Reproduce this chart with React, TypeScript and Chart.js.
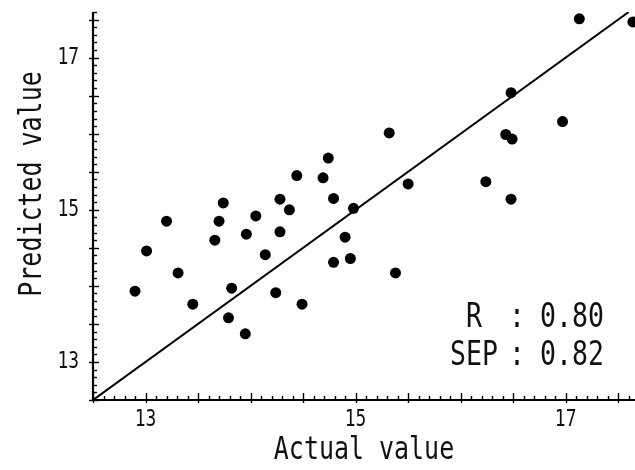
import React, { useEffect, useRef } from "react";
import { Chart, registerables } from "chart.js";

Chart.register(...registerables);

// Measured vs. predicted values for each sample
const actual = [
  12.9, 13.01, 13.2, 13.31, 13.45, 13.66, 13.7, 13.74, 13.79, 13.82, 13.95, 13.96,
  14.05, 14.14, 14.24, 14.28, 14.28, 14.37, 14.44, 14.49, 14.69, 14.74, 14.79, 14.79,
  14.9, 14.95, 14.98, 15.32, 15.38, 15.5, 16.24, 16.43, 16.49, 16.48, 16.48, 16.97,
  17.13, 17.64,
];
const predicted = [
  13.93, 14.46, 14.85, 14.17, 13.76, 14.6, 14.85, 15.09, 13.58, 13.97, 13.37, 14.68,
  14.92, 14.41, 13.91, 15.14, 14.71, 15.0, 15.45, 13.76, 15.42, 15.68, 15.15, 14.31,
  14.64, 14.36, 15.02, 16.01, 14.17, 15.34, 15.37, 15.99, 15.93, 16.54, 15.14, 16.16,
  17.51, 17.47,
];

// 1:1 reference line
const fitX = [12.5, 17.6];
const fitY = [12.5, 17.6];

const xRange = [12.5, 17.66];
const yRange = [12.5, 17.6];
const xTickLabels = [13, 15, 17];
const yTickLabels = [13, 15, 17];
const statRows = [
  ["R", "0.80"],
  ["SEP", "0.82"],
];
const xTitle = "Actual value";
const yTitle = "Predicted value";

const FONT = '"DejaVu Sans Mono", "Liberation Mono", monospace';
const SQUEEZE = 0.78;

function drawText(
  ctx: CanvasRenderingContext2D,
  text: string,
  x: number,
  y: number,
  size: number,
  align: CanvasTextAlign,
  rotate = 0
) {
  ctx.save();
  ctx.translate(x, y);
  if (rotate) ctx.rotate(rotate);
  ctx.scale(SQUEEZE, 1);
  ctx.font = `${size}px ${FONT}`;
  ctx.textAlign = align;
  ctx.textBaseline = "middle";
  ctx.fillStyle = "#111";
  ctx.fillText(text, 0, 0);
  ctx.restore();
}

// Axis lines, inward tick marks, tick labels, titles and fit statistics
const axisDecor = {
  id: "axisDecor",
  afterDraw(chart: any) {
    const { ctx, chartArea: a, scales } = chart;
    const x = scales.x;
    const y = scales.y;
    ctx.save();
    ctx.strokeStyle = "#000";
    ctx.lineCap = "butt";

    // x ticks every 0.1, longer every 0.5
    ctx.lineWidth = 1.4;
    for (let i = Math.ceil(x.min * 10); i <= Math.floor(x.max * 10); i++) {
      const px = Math.round(x.getPixelForValue(i / 10)) + 0.5;
      const big = i % 5 === 0;
      ctx.beginPath();
      ctx.moveTo(px, a.bottom + (big ? 3 : 0));
      ctx.lineTo(px, a.bottom - (big ? 7 : 4));
      ctx.stroke();
    }
    // y ticks every 0.1, longer every 0.5
    for (let i = Math.ceil(y.min * 10); i <= Math.floor(y.max * 10); i++) {
      const py = Math.round(y.getPixelForValue(i / 10)) + 0.5;
      const big = i % 5 === 0;
      ctx.beginPath();
      ctx.moveTo(a.left - (big ? 4 : 0), py);
      ctx.lineTo(a.left + (big ? 6 : 4), py);
      ctx.stroke();
    }

    // axis lines
    ctx.lineWidth = 2.2;
    ctx.beginPath();
    ctx.moveTo(a.left, a.top);
    ctx.lineTo(a.left, a.bottom);
    ctx.lineTo(a.right, a.bottom);
    ctx.stroke();
    ctx.restore();

    // tick labels
    xTickLabels.forEach((v) => {
      drawText(ctx, String(v), x.getPixelForValue(v), a.bottom + 20, 23, "center");
    });
    yTickLabels.forEach((v) => {
      drawText(ctx, String(v), a.left - 14, y.getPixelForValue(v), 23, "right");
    });

    // axis titles
    drawText(ctx, xTitle, (a.left + a.right) / 2, a.bottom + 51, 32, "center");
    drawText(ctx, yTitle, 33, (a.top + a.bottom) / 2 - 22, 32, "center", -Math.PI / 2);

    // statistics box
    statRows.forEach(([label, value], i) => {
      const cy = a.bottom - 82 + i * 38;
      drawText(ctx, label, a.right - 161, cy, 34, "center");
      drawText(ctx, ":", a.right - 118, cy, 34, "center");
      drawText(ctx, value, a.right - 95, cy, 34, "left");
    });
  },
};

export default function App() {
  const canvasRef = useRef<HTMLCanvasElement | null>(null);

  useEffect(() => {
    const canvas = canvasRef.current;
    if (!canvas) return;
    const points = actual.map((v, i) => ({ x: v, y: predicted[i] }));
    const fitLine = fitX.map((v, i) => ({ x: v, y: fitY[i] }));

    const chart = new Chart(canvas, {
      type: "scatter",
      data: {
        datasets: [
          {
            type: "line",
            data: fitLine,
            borderColor: "#000",
            borderWidth: 2,
            pointRadius: 0,
            fill: false,
          },
          {
            data: points,
            backgroundColor: "#000",
            borderWidth: 0,
            pointRadius: 5.5,
            pointHoverRadius: 5.5,
          },
        ],
      },
      options: {
        animation: false,
        responsive: true,
        maintainAspectRatio: false,
        layout: {
          autoPadding: false,
          padding: { left: 93, top: 12, right: 0, bottom: 70 },
        },
        plugins: {
          legend: { display: false },
          tooltip: { enabled: false },
        },
        scales: {
          x: { type: "linear", display: false, min: xRange[0], max: xRange[1] },
          y: { type: "linear", display: false, min: yRange[0], max: yRange[1] },
        },
      },
      plugins: [axisDecor],
    });
    return () => chart.destroy();
  }, []);

  return (
    <div
      style={{
        position: "absolute",
        left: 0,
        top: 0,
        width: 635,
        height: 470,
        background: "#fff",
      }}
    >
      <canvas ref={canvasRef} />
    </div>
  );
}
